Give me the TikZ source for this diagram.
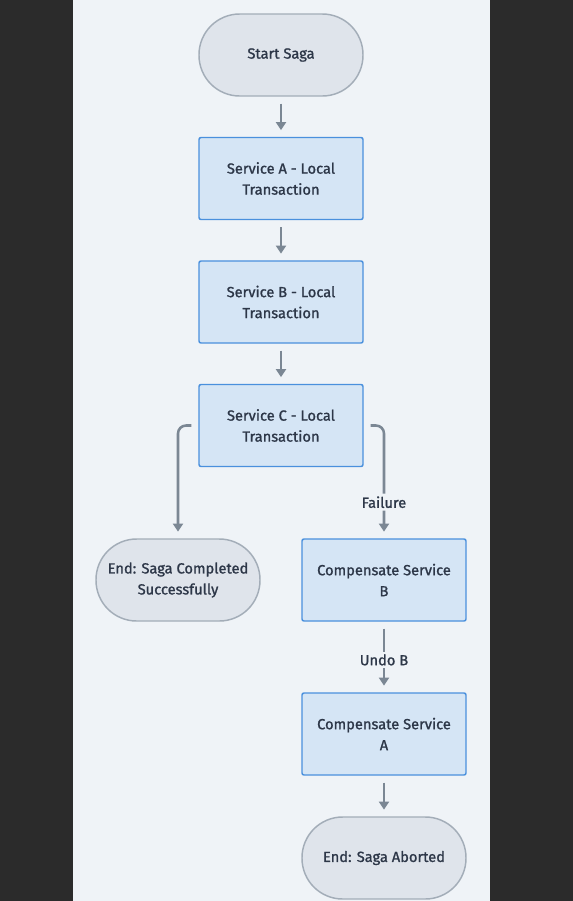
\documentclass[tikz,border=0pt]{standalone}
\usepackage{fontspec}
\setmainfont{Fira Sans}[RawFeature={embolden=1.2}]
\usetikzlibrary{arrows.meta}

\definecolor{darkbg}{HTML}{2B2B2B}
\definecolor{panelbg}{HTML}{EFF3F7}
\definecolor{termfill}{HTML}{DFE4EB}
\definecolor{termline}{HTML}{A3ADB8}
\definecolor{stepfill}{HTML}{D5E5F5}
\definecolor{stepline}{HTML}{4A90DD}
\definecolor{flowline}{HTML}{7B8794}
\definecolor{txt}{HTML}{2D3748}

\begin{document}
\begin{tikzpicture}[x=0.75pt, y=-0.75pt,
    every node/.style={font=\fontsize{11}{15.75}\selectfont, text=txt, align=center},
    term/.style={draw=termline, fill=termfill, line width=1.1pt, rounded corners=30.5pt,
        minimum width=123pt, minimum height=61.5pt},
    stepbox/.style={draw=stepline, fill=stepfill, line width=1.1pt, rounded corners=1.5pt,
        minimum width=123pt, minimum height=61.5pt},
    flow/.style={draw=flowline, line width=1.9pt, -{Triangle[width=7.5pt,length=6pt]},
        shorten <=5.25pt, shorten >=5pt},
    lbl/.style={fill=panelbg, inner sep=2pt}]
    % Background
    \fill[darkbg] (0,0) rectangle (573,901);
    \fill[panelbg] (73,0) rectangle (490,901);
    \useasboundingbox (0,0) rectangle (573,901);

    % Main column
    \node[term] (start) at (281,55) {Start Saga};
    \node[stepbox] (svcA) at (281,178.5) {Service A - Local\\Transaction};
    \node[stepbox] (svcB) at (281,302) {Service B - Local\\Transaction};
    \node[stepbox] (svcC) at (281,425.5) {Service C - Local\\Transaction};

    % Branches
    \node[term] (done) at (178,580) {End: Saga Completed\\Successfully};
    \node[stepbox] (compB) at (384,580) {Compensate Service\\B};
    \node[stepbox] (compA) at (384,734) {Compensate Service\\A};
    \node[term] (abort) at (384,858) {End: Saga Aborted};

    % Arrows
    \draw[flow] (start) -- (svcA);
    \draw[flow] (svcA) -- (svcB);
    \draw[flow] (svcB) -- (svcC);
    \draw[flow, rounded corners=6pt] (svcC.west) -| (done.north);
    \draw[flow, rounded corners=6pt] (svcC.east) -| node[lbl, pos=0.84] {Failure} (compB.north);
    \draw[flow] (compB) -- node[lbl, pos=0.54] {Undo B} (compA);
    \draw[flow] (compA) -- (abort);
\end{tikzpicture}
\end{document}
